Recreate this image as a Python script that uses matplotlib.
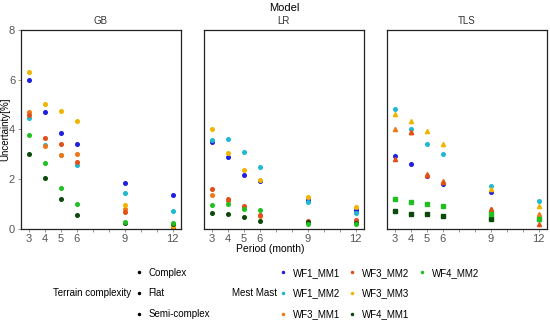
import numpy as np
import matplotlib
matplotlib.use("Agg")
import matplotlib.pyplot as plt
from matplotlib.lines import Line2D

plt.rcParams["font.family"] = ["Liberation Sans", "DejaVu Sans"]

periods = [3, 4, 5, 6, 9, 12]
models = ["GB", "LR", "TLS"]
masts = ["WF1_MM1", "WF1_MM2", "WF3_MM1", "WF3_MM2", "WF3_MM3", "WF4_MM1", "WF4_MM2"]
terrain = {"WF1": "Complex", "WF3": "Flat", "WF4": "Semi-complex"}
terrain_names = ["Complex", "Flat", "Semi-complex"]

# uncertainty [%] per model, per mast, per period
gb_vals = {
    "WF1_MM1": [6.00, 4.69, 3.87, 3.42, 1.83, 1.37],
    "WF1_MM2": [4.44, 3.36, 2.98, 2.57, 1.44, 0.73],
    "WF3_MM1": [4.69, 3.32, 2.95, 3.01, 0.81, 0.08],
    "WF3_MM2": [4.58, 3.66, 3.40, 2.69, 0.67, 0.04],
    "WF3_MM3": [6.30, 5.03, 4.72, 4.33, 0.94, 0.12],
    "WF4_MM1": [3.02, 2.03, 1.20, 0.56, 0.22, 0.19],
    "WF4_MM2": [3.78, 2.64, 1.64, 0.98, 0.27, 0.24],
}
lr_vals = {
    "WF1_MM1": [3.48, 2.88, 2.18, 1.92, 1.14, 0.75],
    "WF1_MM2": [3.56, 3.60, 3.10, 2.49, 1.09, 0.62],
    "WF3_MM1": [1.37, 1.13, 0.86, 0.53, 0.28, 0.31],
    "WF3_MM2": [1.61, 1.19, 0.90, 0.55, 0.30, 0.37],
    "WF3_MM3": [4.03, 3.04, 2.35, 1.95, 1.29, 0.86],
    "WF4_MM1": [0.63, 0.58, 0.48, 0.32, 0.25, 0.24],
    "WF4_MM2": [0.94, 0.98, 0.81, 0.77, 0.20, 0.18],
}
tls_vals = {
    "WF1_MM1": [2.92, 2.60, 2.12, 1.80, 1.49, np.nan],
    "WF1_MM2": [4.81, 4.02, 3.42, 3.01, 1.71, 1.10],
    "WF3_MM1": [4.03, 3.91, 2.21, 1.91, 0.81, 0.60],
    "WF3_MM2": [2.81, 3.88, 2.17, 1.87, 0.78, 0.20],
    "WF3_MM3": [4.61, 4.33, 3.93, 3.43, 1.59, 0.92],
    "WF4_MM1": [0.70, 0.60, 0.60, 0.50, 0.39, np.nan],
    "WF4_MM2": [1.21, 1.09, 1.01, 0.90, 0.60, 0.40],
}
all_vals = {"GB": gb_vals, "LR": lr_vals, "TLS": tls_vals}

colors = {
    "WF1_MM1": "#2020e0",
    "WF1_MM2": "#20b8d0",
    "WF3_MM1": "#f07818",
    "WF3_MM2": "#e05018",
    "WF3_MM3": "#f0b400",
    "WF4_MM1": "#0c4a0c",
    "WF4_MM2": "#20c020",
}
shapes = {"Complex": "o", "Flat": "^", "Semi-complex": "s"}

fig = plt.figure(figsize=(5.5, 3.21), dpi=100)
lefts = [20.7, 203.7, 386.7]
W, H = 550.0, 321.0
axes = []
for i, m in enumerate(models):
    ax = fig.add_axes([lefts[i] / W, 1 - 228.7 / H, 160 / W, (228.7 - 30) / H])
    axes.append(ax)
    for mast in masts:
        shp = shapes[terrain[mast[:3]]] if m == "TLS" else "o"
        ms = 2.6 if shp == "o" else 3.0
        ax.plot(periods, all_vals[m][mast], ls="none", marker=shp, ms=ms,
                color=colors[mast], mec=colors[mast])
    ax.set_xlim(2.5, 12.5)
    ax.set_ylim(0, 8)
    ax.set_xticks(range(3, 13))
    ax.set_xticklabels([str(p) if p in periods else "" for p in range(3, 13)])
    ax.set_yticks([0, 2, 4, 6, 8])
    ax.tick_params(length=2, width=0.6, color="#888888", labelcolor="#555555",
                   labelsize=8, pad=2)
    if i > 0:
        ax.set_yticklabels([])
        ax.tick_params(axis="y", length=0)
    for s in ax.spines.values():
        s.set_linewidth(0.9)
        s.set_color("#222222")
    ax.set_title(m, fontsize=7, color="#333333", pad=4)

fig.text(5 / W, 1 - 129 / H, "Uncertainty[%]", ha="center", va="center",
         rotation=90, fontsize=7)
fig.text(270 / W, 1 - 249 / H, "Period (month)", ha="center", va="center", fontsize=7.5)
fig.text(284 / W, 1 - 8 / H, "Model", ha="center", va="center", fontsize=8)

# legends
fig.text(53 / W, 1 - 293 / H, "Terrain complexity", ha="left", va="center", fontsize=7)
fig.text(232 / W, 1 - 293 / H, "Mest Mast", ha="left", va="center", fontsize=7)

t_handles = [Line2D([], [], ls="none", marker="o", ms=1.5, color="black") for _ in terrain_names]
fig.legend(t_handles, terrain_names, loc="center left",
           bbox_to_anchor=(134 / W, 1 - 293.5 / H), frameon=False, fontsize=7,
           handlelength=1.0, handletextpad=0.5, labelspacing=1.1,
           borderpad=0, borderaxespad=0)
blank = Line2D([], [], ls="none", marker="", color="none")
m_handles = [Line2D([], [], ls="none", marker="o", ms=1.5, color=colors[k]) for k in masts]
m_handles += [blank, blank]
m_labels = masts + ["", ""]
fig.legend(m_handles, m_labels, loc="center left", ncol=3,
           bbox_to_anchor=(278 / W, 1 - 293.5 / H), frameon=False, fontsize=7,
           handlelength=1.0, handletextpad=0.5, labelspacing=1.1, columnspacing=0.8,
           borderpad=0, borderaxespad=0)

fig.savefig("out.png", dpi=100)
